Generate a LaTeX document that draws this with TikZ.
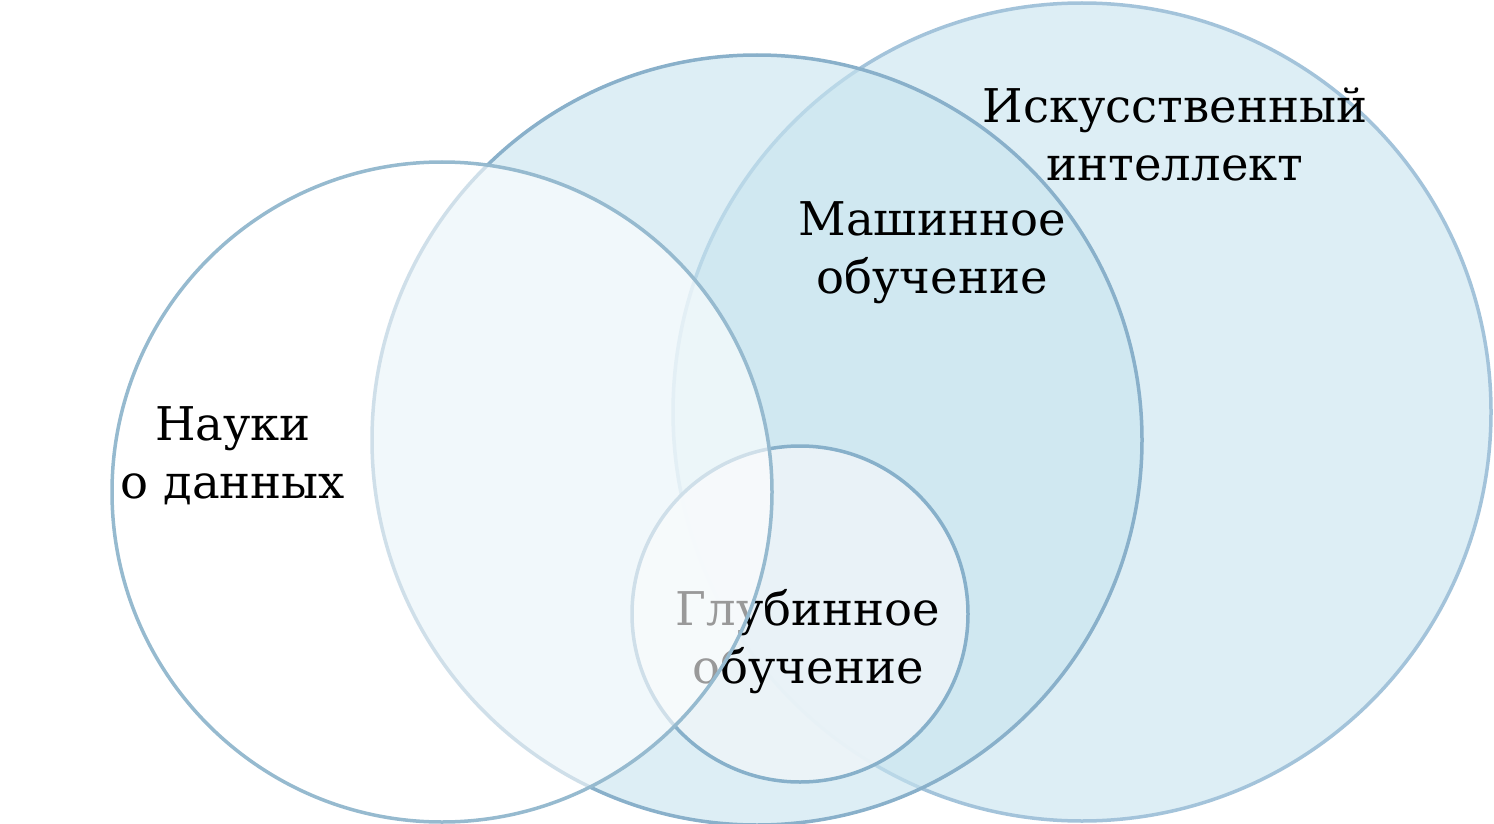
\documentclass[tikz,border=0pt]{standalone}
\usepackage{fontspec}
\setmainfont{DejaVu Serif}
\usepackage{xcolor}
\definecolor{vennfill}{RGB}{200,228,239}
\definecolor{dlfill}{RGB}{237,244,248}
\definecolor{aiedge}{RGB}{163,195,218}
\definecolor{mledge}{RGB}{137,176,202}
\definecolor{dsedge}{RGB}{150,186,207}
\definecolor{dledge}{RGB}{135,176,202}

\begin{document}
\begin{tikzpicture}[x=1pt,y=-1pt,
    venn/.style={circle,draw,line width=3.5pt,inner sep=0pt},
    label/.style={align=center,font=\fontsize{46.5}{58}\selectfont,text=black}]
    \useasboundingbox (0,0) rectangle (1494,824);

    % artificial intelligence and machine learning
    \node[venn,draw=aiedge,fill=vennfill,fill opacity=0.62,minimum size=818pt] (ai) at (1082,412) {};
    \node[venn,draw=mledge,fill=vennfill,fill opacity=0.62,minimum size=770pt] (ml) at (757,440) {};

    % deep learning, under the data science circle
    \node[venn,draw=dledge,fill=dlfill,fill opacity=0.9,minimum size=336pt] (dl) at (800,614) {};
    \node[label] (dltext) at (808,642) {Глубинное\\обучение};

    % data science
    \node[venn,draw=dsedge,fill=white,fill opacity=0.6,minimum size=660pt] (ds) at (442,492) {};

    \node[label] (aitext) at (1175,134) {Искусственный\\интеллект};
    \node[label] (mltext) at (932,253) {Машинное\\обучение};
    \node[label] (dstext) at (233,456) {Науки\\о данных};
\end{tikzpicture}
\end{document}
